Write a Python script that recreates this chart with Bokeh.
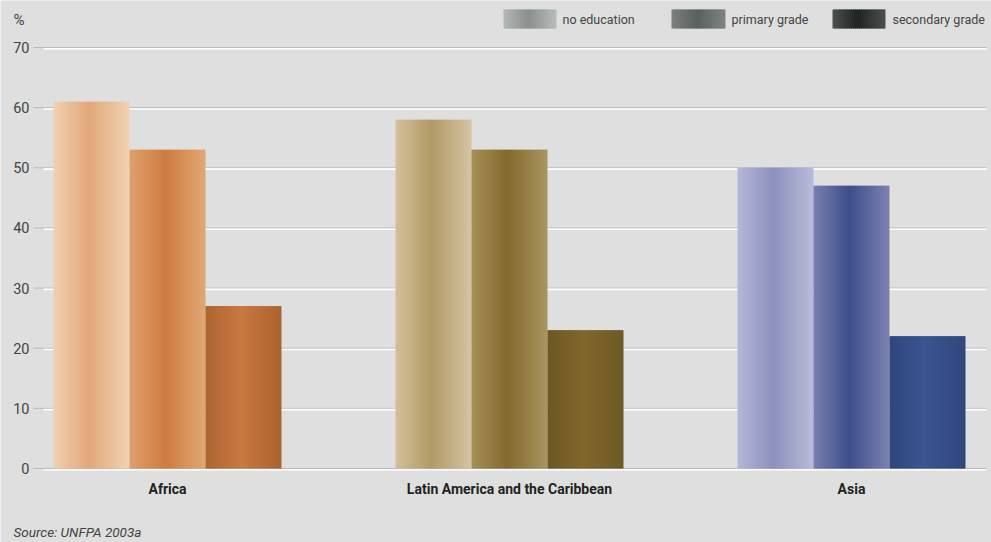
import numpy as np
from bokeh.plotting import figure
from bokeh.models import Range1d
from bokeh.embed import file_html
from bokeh.resources import INLINE
from bokeh.core.properties import value

# ---------------- data ----------------
regions = ["Africa", "Latin America and the Caribbean", "Asia"]
series = ["no education", "primary grade", "secondary grade"]
no_education = [61, 58, 50]
primary_grade = [53, 53, 47]
secondary_grade = [27, 23, 22]
y_ticks = [0, 10, 20, 30, 40, 50, 60, 70]
y_tick_labels = ["0", "10", "20", "30", "40", "50", "60", "70"]
unit_label = "%"
source_text = "Source: UNFPA 2003a"

# ---------------- style ----------------
BG = "#dedfde"
FONT = "Roboto"
grad = [
    [("#f0d0b2", "#e2a877", "#f0d2b4"), ("#dea06c", "#cf7b40", "#e0a874"), ("#ab6531", "#cb7841", "#a9642f")],
    [("#d2c09c", "#b29a66", "#d4c4a2"), ("#a59058", "#836a2c", "#a89560"), ("#6c5822", "#80682c", "#6e5a24")],
    [("#b5b8d8", "#8c90bd", "#b8bbda"), ("#7a7fb0", "#3c4e8c", "#7c82b2"), ("#2f467e", "#3a5592", "#30477e")],
]
legend_grad = [("#b4b8b8", "#8a908e", "#b8bcbc"), ("#7c807e", "#5a605e", "#7e8482"), ("#4c504e", "#202421", "#4c504e")]

W, H = 991, 542
PX_X = 342.0          # px per category
PX_Y = 6.014          # px per percent
X0 = -167.0 / PX_X    # first category centred at 167 px
Y0 = -(H - 468.0) / PX_Y   # zero line at 468 px
X1 = X0 + W / PX_X
Y1 = Y0 + H / PX_Y
BAR_W = 0.2222


def sx2x(sx):
    return X0 + sx / PX_X


def sy2y(sy):
    return Y0 + (H - sy) / PX_Y


def hex2rgb(h):
    h = h.lstrip("#")
    return np.array([int(h[i:i + 2], 16) for i in (0, 2, 4)], dtype=float)


def grad_color(stops, t, mid=0.47):
    a, b, c = (hex2rgb(s) for s in stops)
    if t <= mid:
        col = a + (b - a) * (t / mid)
    else:
        col = b + (c - b) * ((t - mid) / (1 - mid))
    return "#%02x%02x%02x" % tuple(int(round(v)) for v in col)


def gradient_rect(p, left, right, bottom, top, stops, n=38):
    edges = np.linspace(left, right, n + 1)
    step = edges[1] - edges[0]
    rights = np.minimum(edges[1:] + 0.6 * step, right)
    ts = (np.arange(n) + 0.5) / n
    cols = [grad_color(stops, t) for t in ts]
    p.quad(left=edges[:-1], right=rights, bottom=[bottom] * n, top=[top] * n,
           fill_color=cols, line_color=None)


p = figure(width=W, height=H, x_range=Range1d(X0, X1), y_range=Range1d(Y0, Y1),
           output_backend="svg", toolbar_location=None,
           min_border=0, background_fill_color=BG, border_fill_color=BG,
           outline_line_color=None)
p.axis.visible = False
p.grid.visible = False

# grid lines: grey line with a white highlight just below
gx0, gx1 = sx2x(33), sx2x(986)
n_t = len(y_ticks)
p.segment(x0=[gx0] * n_t, x1=[gx1] * n_t, y0=y_ticks, y1=y_ticks,
          line_color="#b9b9b9", line_width=1)
wy = [t - 1.3 / PX_Y for t in y_ticks]
p.segment(x0=[sx2x(43)] * n_t, x1=[gx1] * n_t, y0=wy, y1=wy,
          line_color="white", line_width=1.6)

# y tick labels
p.text(x=[sx2x(29)] * n_t, y=y_ticks, text=y_tick_labels, text_font=value(FONT),
       text_font_size="14.5px", text_color="#444444", text_align="right",
       text_baseline="middle")

# bars
values = [no_education, primary_grade, secondary_grade]
for i in range(len(regions)):
    for j in range(len(series)):
        c = i + (j - 1) * BAR_W
        gradient_rect(p, c - BAR_W / 2, c + BAR_W / 2, 0, values[j][i], grad[i][j])

# category labels
p.text(x=list(range(len(regions))), y=[sy2y(488)] * len(regions), text=regions,
       text_font=value(FONT), text_font_style="bold", text_font_size="14px",
       text_color="#222222", text_align="center", text_baseline="middle")

# legend
leg_sw = [(503, 556), (671, 725), (832, 885)]
leg_tx = [562, 731, 892]
for k, name in enumerate(series):
    gradient_rect(p, sx2x(leg_sw[k][0]), sx2x(leg_sw[k][1]), sy2y(28), sy2y(9), legend_grad[k], n=26)
p.text(x=[sx2x(t) for t in leg_tx], y=[sy2y(19)] * len(series), text=series,
       text_font=value(FONT), text_font_size="12.5px", text_color="#444444",
       text_baseline="middle")

# unit label and source
p.text(x=[sx2x(13)], y=[sy2y(19)], text=[unit_label], text_font=value(FONT),
       text_font_size="15px", text_color="#444444", text_baseline="middle")
p.text(x=[sx2x(13)], y=[sy2y(531)], text=[source_text], text_font=value(FONT),
       text_font_style="italic", text_font_size="13.5px", text_color="#444444",
       text_baseline="middle")

open("out.html", "w").write(file_html(p, INLINE))
